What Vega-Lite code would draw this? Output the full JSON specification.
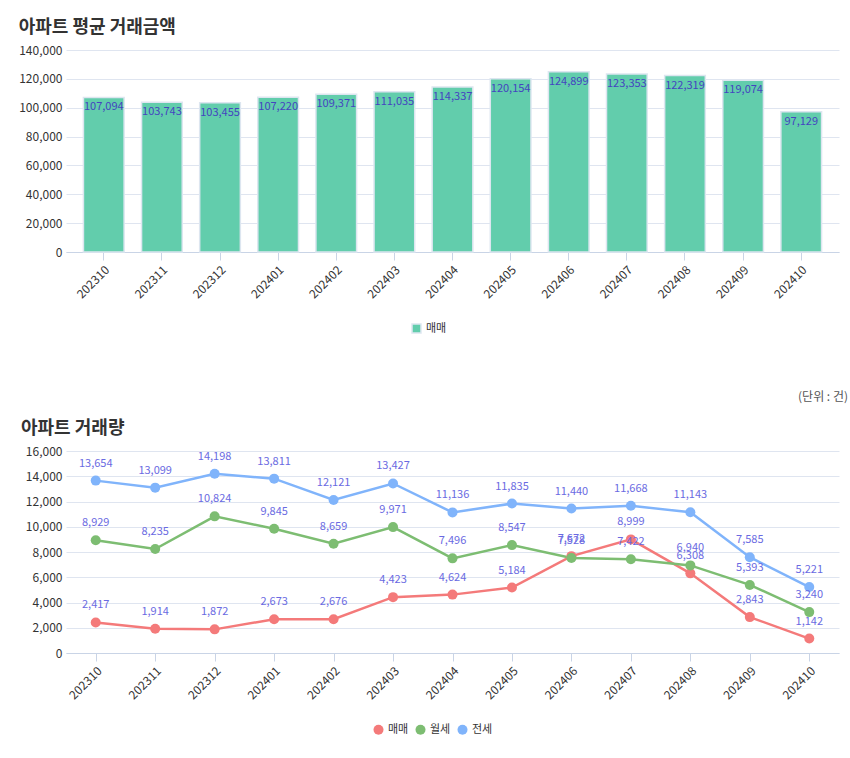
{
  "$schema": "https://vega.github.io/schema/vega-lite/v6.json",
  "background": "white",
  "padding": {"left": 18, "top": 19, "right": 4, "bottom": 0},
  "spacing": 55,
  "resolve": {"scale": {"color": "independent"}, "legend": {"color": "independent"}},
  "config": {
    "font": "Noto Sans CJK KR",
    "view": {"stroke": null},
    "axis": {
      "labelFont": "Noto Sans CJK KR",
      "labelFontSize": 12,
      "labelColor": "#333333",
      "gridColor": "#dfe5f0",
      "domainColor": "#c9d4e6",
      "tickColor": "#c9d4e6",
      "title": null
    },
    "title": {"fontSize": 18, "fontWeight": "bold", "color": "#333333", "anchor": "start", "font": "Noto Sans CJK KR", "offset": 7},
    "legend": {"labelFont": "Noto Sans CJK KR", "labelFontSize": 11, "labelColor": "#333333", "title": null, "direction": "horizontal"}
  },
  "datasets": {
    "amount": [
      {"month": "202310", "kind": "매매", "value": 107094},
      {"month": "202311", "kind": "매매", "value": 103743},
      {"month": "202312", "kind": "매매", "value": 103455},
      {"month": "202401", "kind": "매매", "value": 107220},
      {"month": "202402", "kind": "매매", "value": 109371},
      {"month": "202403", "kind": "매매", "value": 111035},
      {"month": "202404", "kind": "매매", "value": 114337},
      {"month": "202405", "kind": "매매", "value": 120154},
      {"month": "202406", "kind": "매매", "value": 124899},
      {"month": "202407", "kind": "매매", "value": 123353},
      {"month": "202408", "kind": "매매", "value": 122319},
      {"month": "202409", "kind": "매매", "value": 119074},
      {"month": "202410", "kind": "매매", "value": 97129}
    ],
    "volume": [
      {"month": "202310", "type": "매매", "count": 2417},
      {"month": "202311", "type": "매매", "count": 1914},
      {"month": "202312", "type": "매매", "count": 1872},
      {"month": "202401", "type": "매매", "count": 2673},
      {"month": "202402", "type": "매매", "count": 2676},
      {"month": "202403", "type": "매매", "count": 4423},
      {"month": "202404", "type": "매매", "count": 4624},
      {"month": "202405", "type": "매매", "count": 5184},
      {"month": "202406", "type": "매매", "count": 7672},
      {"month": "202407", "type": "매매", "count": 8999},
      {"month": "202408", "type": "매매", "count": 6308},
      {"month": "202409", "type": "매매", "count": 2843},
      {"month": "202410", "type": "매매", "count": 1142},
      {"month": "202310", "type": "월세", "count": 8929},
      {"month": "202311", "type": "월세", "count": 8235},
      {"month": "202312", "type": "월세", "count": 10824},
      {"month": "202401", "type": "월세", "count": 9845},
      {"month": "202402", "type": "월세", "count": 8659},
      {"month": "202403", "type": "월세", "count": 9971},
      {"month": "202404", "type": "월세", "count": 7496},
      {"month": "202405", "type": "월세", "count": 8547},
      {"month": "202406", "type": "월세", "count": 7528},
      {"month": "202407", "type": "월세", "count": 7422},
      {"month": "202408", "type": "월세", "count": 6940},
      {"month": "202409", "type": "월세", "count": 5393},
      {"month": "202410", "type": "월세", "count": 3240},
      {"month": "202310", "type": "전세", "count": 13654},
      {"month": "202311", "type": "전세", "count": 13099},
      {"month": "202312", "type": "전세", "count": 14198},
      {"month": "202401", "type": "전세", "count": 13811},
      {"month": "202402", "type": "전세", "count": 12121},
      {"month": "202403", "type": "전세", "count": 13427},
      {"month": "202404", "type": "전세", "count": 11136},
      {"month": "202405", "type": "전세", "count": 11835},
      {"month": "202406", "type": "전세", "count": 11440},
      {"month": "202407", "type": "전세", "count": 11668},
      {"month": "202408", "type": "전세", "count": 11143},
      {"month": "202409", "type": "전세", "count": 7585},
      {"month": "202410", "type": "전세", "count": 5221}
    ]
  },
  "vconcat": [
    {
      "width": 773,
      "height": 202,
      "title": {"text": "아파트 평균 거래금액"},
      "data": {"name": "amount"},
      "encoding": {
        "x": {
          "field": "month", "type": "ordinal", "sort": null,
          "scale": {"paddingInner": 0.3, "paddingOuter": 0.3},
          "axis": {"labelAngle": -45, "grid": false, "tickSize": 8, "labelPadding": 4}
        },
        "y": {
          "field": "value", "type": "quantitative",
          "scale": {"domain": [0, 140000]},
          "axis": {"values": [0, 20000, 40000, 60000, 80000, 100000, 120000, 140000], "format": ",d", "domain": false, "ticks": false, "labelPadding": 4, "minExtent": 45}
        }
      },
      "layer": [
        {
          "mark": {"type": "bar", "stroke": "#dde6f0", "strokeWidth": 1.5},
          "encoding": {
            "color": {
              "field": "kind", "type": "nominal",
              "scale": {"domain": ["매매"], "range": ["#62cdac"]},
              "legend": {"orient": "none", "legendX": 345, "legendY": 273, "symbolType": "square", "symbolSize": 80}
            }
          }
        },
        {
          "mark": {"type": "text", "baseline": "top", "dy": 4, "fontSize": 11, "color": "#4444c0"},
          "encoding": {"text": {"field": "value", "type": "quantitative", "format": ",d"}}
        }
      ]
    },
    {
      "title": {"text": "(단위 : 건)", "anchor": "end", "fontSize": 12, "fontWeight": "normal", "color": "#555555", "dx": 9, "offset": 16},
      "vconcat": [
        {
          "width": 773,
          "height": 202,
          "title": {"text": "아파트 거래량"},
          "data": {"name": "volume"},
          "encoding": {
            "x": {
              "field": "month", "type": "ordinal", "sort": null,
              "scale": {"type": "point", "padding": 0.5},
              "axis": {"labelAngle": -45, "grid": false, "tickSize": 8, "labelPadding": 4}
            },
            "y": {
              "field": "count", "type": "quantitative",
              "scale": {"domain": [0, 16000]},
              "axis": {"values": [0, 2000, 4000, 6000, 8000, 10000, 12000, 14000, 16000], "format": ",d", "domain": false, "ticks": false, "labelPadding": 4, "minExtent": 45}
            },
            "color": {
              "field": "type", "type": "nominal",
              "scale": {"domain": ["매매", "월세", "전세"], "range": ["#f47a7a", "#7dbd72", "#80b4fb"]},
              "legend": {"orient": "none", "legendX": 307, "legendY": 273, "symbolType": "circle", "symbolSize": 100, "symbolStrokeWidth": 0, "columnPadding": 6}
            }
          },
          "layer": [
            {"mark": {"type": "line", "strokeWidth": 2.5}},
            {"mark": {"type": "point", "filled": true, "size": 100, "opacity": 1}},
            {
              "mark": {"type": "text", "dy": -17, "fontSize": 11},
              "encoding": {
                "text": {"field": "count", "type": "quantitative", "format": ",d"},
                "color": {"value": "#6a6ae2"}
              }
            }
          ]
        }
      ]
    }
  ]
}
